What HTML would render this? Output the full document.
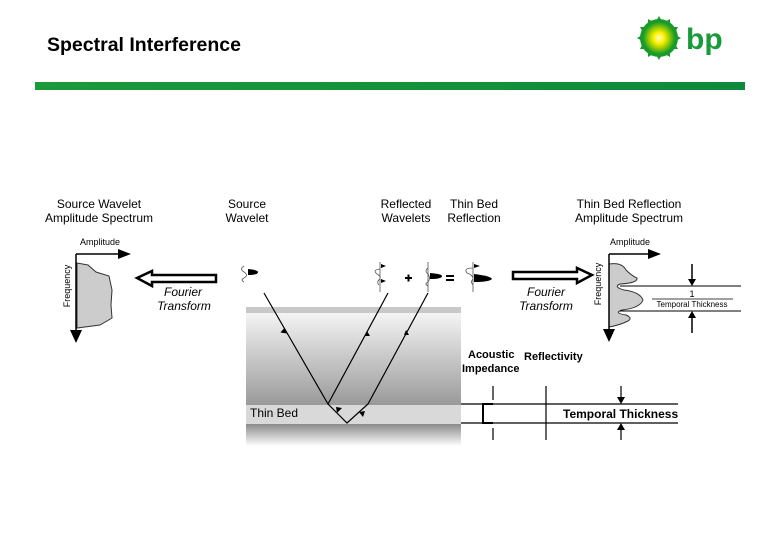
<!DOCTYPE html>
<html><head><meta charset="utf-8"><style>
body{margin:0;background:#fff}
svg{display:block}
text{font-family:"Liberation Sans",sans-serif}
</style></head><body>
<svg width="780" height="540" viewBox="0 0 780 540" xmlns="http://www.w3.org/2000/svg">
<defs>
<linearGradient id="g1" x1="0" y1="0" x2="0" y2="1"><stop offset="0" stop-color="#f4f4f4"/><stop offset="1" stop-color="#9a9a9a"/></linearGradient>
<linearGradient id="g2" x1="0" y1="0" x2="0" y2="1"><stop offset="0" stop-color="#8a8a8a"/><stop offset="1" stop-color="#ffffff"/></linearGradient>
<linearGradient id="bar" x1="0" y1="0" x2="1" y2="0"><stop offset="0" stop-color="#1a9a3a"/><stop offset="1" stop-color="#0e8a3a"/></linearGradient>
<radialGradient id="sun"><stop offset="0" stop-color="#ffffd0"/><stop offset="0.35" stop-color="#ffee00"/><stop offset="0.6" stop-color="#a8d400"/><stop offset="1" stop-color="#1a9a2a"/></radialGradient>
</defs>
<text x="47" y="51" font-size="19.5" font-weight="bold">Spectral Interference</text>
<g transform="translate(659,38)">
<g fill="#1a9a2a">
<circle r="19"/>
<g id="p"><path d="M0,-22 L4,-15 L-4,-15Z"/></g>
<use href="#p" transform="rotate(30)"/><use href="#p" transform="rotate(60)"/><use href="#p" transform="rotate(90)"/><use href="#p" transform="rotate(120)"/><use href="#p" transform="rotate(150)"/><use href="#p" transform="rotate(180)"/><use href="#p" transform="rotate(210)"/><use href="#p" transform="rotate(240)"/><use href="#p" transform="rotate(270)"/><use href="#p" transform="rotate(300)"/><use href="#p" transform="rotate(330)"/>
</g>
<circle r="16" fill="url(#sun)"/>
</g>
<text x="686" y="49" font-size="30" font-weight="bold" fill="#1a9a3a">bp</text>
<rect x="35" y="82" width="710" height="8" fill="url(#bar)"/>
<g font-size="12" text-anchor="middle">
<text x="99" y="208">Source Wavelet</text><text x="99" y="222">Amplitude Spectrum</text>
<text x="247" y="208">Source</text><text x="247" y="222">Wavelet</text>
<text x="406" y="208">Reflected</text><text x="406" y="222">Wavelets</text>
<text x="474" y="208">Thin Bed</text><text x="474" y="222">Reflection</text>
<text x="629" y="208">Thin Bed Reflection</text><text x="629" y="222">Amplitude Spectrum</text>
</g>
<text x="80" y="245" font-size="9">Amplitude</text>
<text transform="translate(70,286) rotate(-90)" font-size="9" text-anchor="middle">Frequency</text>
<path d="M77,263 L88,265 L96,272 L109,276 L112,290 L111,305 L112,318 L100,325 L77,328 Z" fill="#ccc" stroke="#333" stroke-width="1"/>
<line x1="76" y1="254" x2="76" y2="332" stroke="#000" stroke-width="1.5"/>
<path d="M70,330 L82,330 L76,343 Z"/>
<line x1="76" y1="254" x2="120" y2="254" stroke="#000" stroke-width="1.5"/>
<path d="M118,249 L131,254 L118,259 Z"/>
<path d="M137,278 L152,271 L152,275 L216,275 L216,282 L152,282 L152,286 Z" fill="#fff" stroke="#000" stroke-width="2.5"/>
<g font-size="12" font-style="italic" text-anchor="middle"><text x="183" y="296">Fourier</text><text x="184" y="310">Transform</text></g>
<path d="M592,275 L577,268 L577,272 L513,272 L513,279 L577,279 L577,283 Z" fill="#fff" stroke="#000" stroke-width="2.5"/>
<g font-size="12" font-style="italic" text-anchor="middle"><text x="546" y="296">Fourier</text><text x="546" y="310">Transform</text></g>
<text x="610" y="245" font-size="9">Amplitude</text>
<text transform="translate(601,284) rotate(-90)" font-size="9" text-anchor="middle">Frequency</text>
<path d="M609,264 Q622,262 626,270 Q632,276 637,278 Q638,283 620,284 Q613,287 624,290 Q640,292 643,300 Q640,308 622,310 Q613,313 626,315 Q633,318 628,321 Q620,325 609,327 Z" fill="#ccc" stroke="#333"/>
<line x1="609" y1="254" x2="609" y2="330" stroke="#000" stroke-width="1.5"/>
<path d="M603,329 L615,329 L609,342 Z"/>
<line x1="609" y1="254" x2="650" y2="254" stroke="#000" stroke-width="1.5"/>
<path d="M648,249 L661,254 L648,259 Z"/>
<line x1="620" y1="286" x2="741" y2="286" stroke="#000"/>
<line x1="620" y1="311" x2="741" y2="311" stroke="#000"/>
<line x1="692" y1="264" x2="692" y2="280" stroke="#000" stroke-width="1.5"/><path d="M688,279 L696,279 L692,286 Z"/>
<line x1="692" y1="333" x2="692" y2="317" stroke="#000" stroke-width="1.5"/><path d="M688,318 L696,318 L692,311 Z"/>
<text x="692" y="297" font-size="9" text-anchor="middle">1</text>
<line x1="652" y1="299" x2="733" y2="299" stroke="#000" stroke-width="0.8"/>
<text x="692" y="307" font-size="8" text-anchor="middle">Temporal Thickness</text>
<rect x="246" y="307" width="215" height="6" fill="#c8c8c8"/>
<rect x="246" y="313" width="215" height="92" fill="url(#g1)"/>
<rect x="246" y="405" width="215" height="19" fill="#d9d9d9"/>
<rect x="246" y="424" width="215" height="22" fill="url(#g2)"/>
<text x="250" y="417" font-size="12">Thin Bed</text>
<g stroke="#000" stroke-width="1.2" fill="none">
<path d="M264,293 L328,404 L347,423 L368,404 L428,293"/>
<path d="M328,404 L388,293"/>
</g>
<g fill="#000">
<path d="M280,331 l6,-2 l-1,6 z" transform="rotate(-30 283 331)"/>
<path d="M337,413 l-1,-6 l6,1 z"/>
<path d="M367,331 l-2,5 l5,0 z"/>
<path d="M406,330 l-2,5 l5,0 z"/>
<path d="M359,412 l6,-1 l-2,6 z"/>
</g>
<g stroke="#555" fill="none" stroke-width="0.8">
<path d="M244,266 q-5,3 0,6 q5,3 0,6 q-4,2 0,4"/>
<path d="M380,262 v30 M380,269 q-8,1 -3,5 q4,2 3,5 q-4,3 -1,6"/>
<path d="M428,262 v30 M428,268 q-4,3 0,6 q3,4 0,8 q-4,2 0,4"/>
<path d="M473,262 v30 M473,268 q-10,0 -6,5 q6,2 6,6 q-3,3 0,6"/>
</g>
<g fill="#000">
<path d="M248,269 q10,1 10,3 q0,3 -10,3 z"/>
<path d="M381,264 l5,2 l-5,2 z"/><path d="M381,279 l5,2 l-5,2 z"/>
<path d="M430,273 q12,1 12,3 q0,3 -12,3 z"/>
<path d="M474,264 l6,2 l-6,2 z"/><path d="M474,274 q17,2 18,5 q-3,3 -18,3 z"/>
<rect x="405" y="277" width="7" height="2"/><rect x="407.5" y="274.5" width="2" height="7"/>
<rect x="446" y="275" width="8" height="2"/><rect x="446" y="279" width="8" height="2"/>
</g>
<g font-size="11" font-weight="bold">
<text x="468" y="358">Acoustic</text><text x="462" y="372">Impedance</text>
<text x="524" y="360">Reflectivity</text>
</g>
<g stroke="#000" stroke-width="1.2" fill="none">
<line x1="461" y1="404" x2="678" y2="404"/>
<line x1="461" y1="423" x2="678" y2="423"/>
<path d="M493,404 L483,404 L483,423 L493,423" stroke-width="2"/>
<line x1="493" y1="386" x2="493" y2="400"/>
<line x1="493" y1="428" x2="493" y2="440"/>
<line x1="546" y1="386" x2="546" y2="440"/>
<line x1="621" y1="386" x2="621" y2="398"/>
<line x1="621" y1="440" x2="621" y2="429"/>
</g>
<path d="M617,397 L625,397 L621,404 Z"/><path d="M617,430 L625,430 L621,423 Z"/>
<text x="563" y="418" font-size="12" font-weight="bold">Temporal Thickness</text>
</svg>
</body></html>
